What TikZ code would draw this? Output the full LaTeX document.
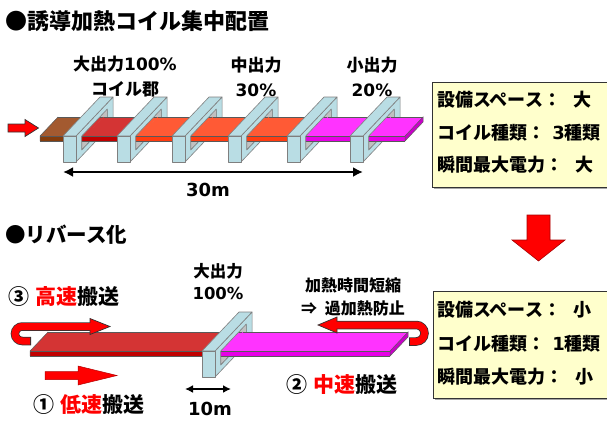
\documentclass[tikz,border=0pt]{standalone}
\usepackage{fontspec}
\setmainfont{Noto Sans CJK JP}
\newfontfamily\dv{DejaVu Sans}
\usetikzlibrary{arrows.meta}

\definecolor{coilblue}{HTML}{B9DDE4}
\definecolor{coilgray}{HTML}{7F7F7F}
\definecolor{innergray}{HTML}{C0C0C0}
\definecolor{slabbrown}{HTML}{A35A30}
\definecolor{slabbrownside}{HTML}{843C0C}
\definecolor{slabred}{HTML}{D43434}
\definecolor{slabredside}{HTML}{C00000}
\definecolor{slaborange}{HTML}{FF5A35}
\definecolor{slaborangeside}{HTML}{FF3C10}
\definecolor{slabpink}{HTML}{FF33FF}
\definecolor{slabpinkside}{HTML}{E600E6}
\definecolor{slabpinkend}{HTML}{C800C8}
\definecolor{boxyellow}{HTML}{FFFFCC}

\tikzset{
    coil/.style={fill=coilblue, draw=coilgray, line width=0.6pt, line join=round}, % outer faces of a coil
    coilshade/.style={fill=innergray, draw=coilgray, line width=0.6pt, line join=round}, % faces seen through the window
    plateline/.style={draw=gray!70!black, line width=0.5pt},
    blockarrow/.style={fill=red, draw=black!80, line width=0.7pt, line join=miter},
    dimline/.style={line width=2.4pt, {Latex[length=10pt,width=10pt]}-{Latex[length=10pt,width=10pt]}},
    heading/.style={font=\bfseries\fontsize{22}{24}\selectfont, anchor=west, inner sep=0pt},
    tag/.style={font=\bfseries\fontsize{17}{25}\selectfont, align=center, inner sep=0pt},
    info/.style={font=\bfseries\fontsize{18}{20}\selectfont, anchor=west, inner sep=0pt},
    infobox/.style={fill=boxyellow, draw=black!80, line width=0.7pt},
    stage/.style={font=\bfseries\fontsize{21}{24}\selectfont, anchor=west, inner sep=0pt},
}

% strip piece from x=#1 to x=#2, top colour #3, side colour #4
\newcommand{\platepart}[4]{%
  \fill[#3] (#1,10,-10) -- (#2+0.4,10,-10) -- (#2+0.4,29,-10) -- (#1,29,-10) -- cycle;
  \fill[#4] (#1,10,-15) -- (#2+0.4,10,-15) -- (#2+0.4,10,-10) -- (#1,10,-10) -- cycle;
  \draw[plateline] (#1,29,-10) -- (#2,29,-10) (#1,10,-10) -- (#2,10,-10) (#1,10,-15) -- (#2,10,-15);
}
\newcommand{\plateleft}[1]{\draw[plateline] (#1,10,-15) -- (#1,10,-10) -- (#1,29,-10);}
\newcommand{\plateright}[2]{\filldraw[fill=#2, plateline] (#1,10,-15) -- (#1,29,-15) -- (#1,29,-10) -- (#1,10,-10) -- cycle;}

% coil frame at x=#1: inner faces first, outer faces after the strip
\newcommand{\coilinner}[1]{%
  \filldraw[coilshade] (#1,33,-20) -- (#1+13,33,-20) -- (#1+13,33,-6) -- (#1,33,-6) -- cycle;
  \filldraw[coilshade] (#1,6,-20) -- (#1+13,6,-20) -- (#1+13,33,-20) -- (#1,33,-20) -- cycle;
}
\newcommand{\coilouter}[1]{%
  \filldraw[coil, even odd rule] (#1+13,0,-26) -- (#1+13,39,-26) -- (#1+13,39,0) -- (#1+13,0,0) -- cycle
      (#1+13,6,-20) -- (#1+13,33,-20) -- (#1+13,33,-6) -- (#1+13,6,-6) -- cycle;
  \filldraw[coil] (#1,0,0) -- (#1+13,0,0) -- (#1+13,39,0) -- (#1,39,0) -- cycle;
  \filldraw[coil] (#1,0,-26) -- (#1+13,0,-26) -- (#1+13,0,0) -- (#1,0,0) -- cycle;
}

\begin{document}
\begin{tikzpicture}[x=1pt, y=-1pt]
\useasboundingbox (0,0) rectangle (607,421);

%--- upper half: coils grouped in one line
\node[heading] (head1) at (5,21) {●誘導加熱コイル集中配置};

\node[tag] (big)   at (125,76.5) {大出力{\dv 100\%}\\コイル郡};
\node[tag] (mid)   at (256,76.5) {中出力\\{\dv 30\%}};
\node[tag] (small) at (372,76.5) {小出力\\{\dv 20\%}};

\filldraw[blockarrow] (8,124) -- (25,124) -- (25,119.5) -- (38.5,128) -- (25,136.5) -- (25,132) -- (8,132) -- cycle;

\begin{scope}[shift={(0,136)}, x={(1pt,0pt)}, y={(0.95pt,1pt)}, z={(0pt,1pt)}]
  \platepart{30.5}{63}{slabbrown}{slabbrownside}
  \plateleft{30.5}
  \coilinner{63}
  \platepart{63}{76}{slabred}{slabredside}
  \coilouter{63}
  \platepart{76}{117}{slabred}{slabredside}
  \coilinner{117}
  \platepart{117}{130}{slaborange}{slaborangeside}
  \coilouter{117}
  \platepart{130}{172}{slaborange}{slaborangeside}
  \coilinner{172}
  \platepart{172}{185}{slaborange}{slaborangeside}
  \coilouter{172}
  \platepart{185}{228}{slaborange}{slaborangeside}
  \coilinner{228}
  \platepart{228}{241}{slaborange}{slaborangeside}
  \coilouter{228}
  \platepart{241}{287}{slaborange}{slaborangeside}
  \coilinner{287}
  \platepart{287}{300}{slabpink}{slabpinkside}
  \coilouter{287}
  \platepart{300}{350}{slabpink}{slabpinkside}
  \coilinner{350}
  \platepart{350}{363}{slabpink}{slabpinkside}
  \coilouter{350}
  \platepart{363}{395.5}{slabpink}{slabpinkside}
  \plateright{395.5}{slabpinkend}
\end{scope}

\coordinate (len1) at (63,172);
\coordinate (len2) at (363,172);
\draw[dimline] (len1) -- (len2);
\node[font=\bfseries\fontsize{18}{20}\selectfont\dv, inner sep=0pt] (len) at (208,190) {30m};

% comparison boxes
\fill[black!35] (433.5,83.5) rectangle (613.5,188.5);
\draw[infobox] (432,82) rectangle (612,187);
\node[info] (sp1) at (437,100) {設備スペース：\hspace{0.7em}大};
\node[info] (ty1) at (437,133) {コイル種類：\hspace{0.4em}{\dv 3}種類};
\node[info] (pw1) at (437,165) {瞬間最大電力：\hspace{0.7em}大};

\filldraw[fill=red, draw=red!65!black, line width=0.6pt] (527,215) -- (550,215) -- (550,240) -- (565,240) -- (538.5,261) -- (512,240) -- (527,240) -- cycle;

\fill[black!35] (434.5,292.5) rectangle (613.5,399.5);
\draw[infobox] (433,291) rectangle (612,398);
\node[info] (sp2) at (437,310) {設備スペース：\hspace{0.7em}小};
\node[info] (ty2) at (437,344) {コイル種類：\hspace{0.4em}{\dv 1}種類};
\node[info] (pw2) at (437,377) {瞬間最大電力：\hspace{0.7em}小};

%--- lower half: one coil, strip runs back and forth
\node[heading, font=\bfseries\fontsize{20.5}{24}\selectfont] (head2) at (5,235) {●リバース化};

\node[tag, font=\bfseries\fontsize{16.5}{22}\selectfont] (one) at (218,282) {大出力\\{\dv 100\%}};
\node[tag, font=\bfseries\fontsize{16}{23}\selectfont] (note) at (353,296.5) {加熱時間短縮\\⇒\hspace{0.5em}過加熱防止};

\begin{scope}[shift={(0,351)}, x={(1pt,0pt)}, y={(0.95pt,1pt)}, z={(0pt,1pt)}]
  \platepart{20.5}{202}{slabred}{slabredside}
  \plateleft{20.5}
  \coilinner{202}
  \platepart{202}{215}{slabpink}{slabpinkside}
  \coilouter{202}
  \platepart{215}{380.5}{slabpink}{slabpinkside}
  \plateright{380.5}{slabpinkend}
\end{scope}

% turn-back arrows at both ends
\draw[line width=8.5pt, black!80, rounded corners=7.25pt] (91,326.5) -- (15,326.5) -- (15,341) -- (31,341);
\filldraw[blockarrow] (90,318.5) -- (110,326.5) -- (90,334.5) -- cycle;
\draw[line width=7pt, red, rounded corners=7.25pt] (91,326.5) -- (15,326.5) -- (15,341) -- (30,341);

\draw[line width=8.5pt, black!80, rounded corners=8.25pt] (336,325) -- (424.5,325) -- (424.5,341.5) -- (409,341.5);
\filldraw[blockarrow] (337,317) -- (318,325) -- (337,333) -- cycle;
\draw[line width=7pt, red, rounded corners=8.25pt] (336,325) -- (424.5,325) -- (424.5,341.5) -- (410,341.5);

\filldraw[fill=red, draw=red!70!black, line width=0.5pt] (45,371.5) -- (78,371.5) -- (78,366) -- (117,375.5) -- (78,385) -- (78,379.5) -- (45,379.5) -- cycle;

\node[stage] (fast) at (8,297) {③\hspace{0.3em}\textcolor{red}{高速}搬送};
\node[stage] (slow) at (33,405) {①\hspace{0.3em}\textcolor{red}{低速}搬送};
\node[stage] (medium) at (286,385) {②\hspace{0.3em}\textcolor{red}{中速}搬送};

\coordinate (gap1) at (185,389);
\coordinate (gap2) at (231,389);
\draw[dimline, line width=2pt, {Latex[length=8pt,width=8pt]}-{Latex[length=8pt,width=8pt]}] (gap1) -- (gap2);
\node[font=\bfseries\fontsize{18}{20}\selectfont\dv, inner sep=0pt] (gap) at (210,409) {10m};
\end{tikzpicture}
\end{document}
